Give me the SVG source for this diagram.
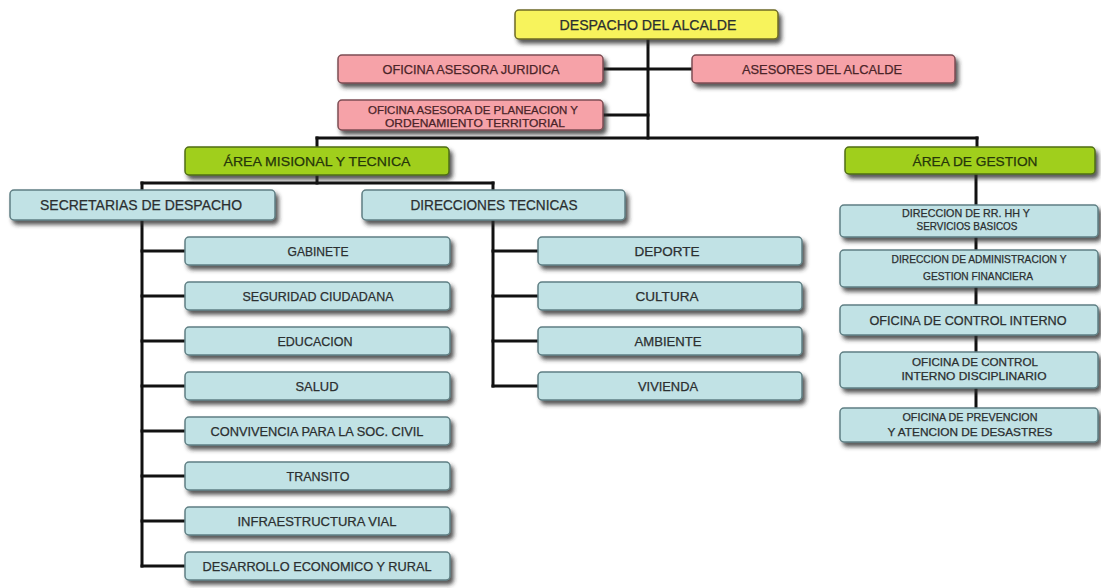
<svg xmlns="http://www.w3.org/2000/svg" width="1101" height="588" viewBox="0 0 1101 588">
<defs>
<filter id="sh" x="-10%" y="-30%" width="125%" height="180%">
<feDropShadow dx="3" dy="4" stdDeviation="2.2" flood-color="#2a2a2a" flood-opacity="0.8"/>
</filter>
<style>
.box{stroke-width:1.5;filter:url(#sh)}
.y{fill:#f7f35c;stroke:#6d6a26}
.p{fill:#f6a2a8;stroke:#7d4e54}
.g{fill:#a0cf1f;stroke:#4f6d16}
.b{fill:#c1e2e5;stroke:#5f7f84}
text{font-family:"Liberation Sans",Arial,sans-serif;text-anchor:middle;fill:#2b2f30;stroke:#2b2f30;stroke-width:0.25}
.tp{fill:#4a2428;stroke:#4a2428}
.tg{fill:#26360a;stroke:#26360a}
.c line{stroke:#111;stroke-width:3;stroke-linecap:square}
</style>
</defs>
<rect width="1101" height="588" fill="#ffffff"/>
<g class="c" id="connectors">
<line x1="648" y1="39" x2="648" y2="138"/>
<line x1="603" y1="69" x2="692" y2="69"/>
<line x1="603" y1="115" x2="648" y2="115"/>
<line x1="317" y1="138" x2="977" y2="138"/>
<line x1="317" y1="138" x2="317" y2="147"/>
<line x1="977" y1="138" x2="977" y2="147"/>
<line x1="317" y1="175" x2="317" y2="183"/>
<line x1="142" y1="183" x2="493" y2="183"/>
<line x1="142" y1="183" x2="142" y2="190"/>
<line x1="493" y1="183" x2="493" y2="190"/>
<line x1="142" y1="220" x2="142" y2="566"/>
<line x1="142" y1="251" x2="185" y2="251"/>
<line x1="142" y1="296" x2="185" y2="296"/>
<line x1="142" y1="341" x2="185" y2="341"/>
<line x1="142" y1="386" x2="185" y2="386"/>
<line x1="142" y1="431" x2="185" y2="431"/>
<line x1="142" y1="476" x2="185" y2="476"/>
<line x1="142" y1="521" x2="185" y2="521"/>
<line x1="142" y1="566" x2="185" y2="566"/>
<line x1="493" y1="220" x2="493" y2="386"/>
<line x1="493" y1="251" x2="538" y2="251"/>
<line x1="493" y1="296" x2="538" y2="296"/>
<line x1="493" y1="341" x2="538" y2="341"/>
<line x1="493" y1="386" x2="538" y2="386"/>
<line x1="976" y1="175" x2="976" y2="408"/>
</g>
<g id="despacho"><rect class="box y" x="515" y="10" width="263" height="29" rx="4"/><text x="648" y="30" font-size="14" textLength="177" lengthAdjust="spacingAndGlyphs">DESPACHO DEL ALCALDE</text></g>
<g id="juridica"><rect class="box p" x="338" y="55" width="265" height="28" rx="4"/><text class="tp" x="471" y="74" font-size="13" textLength="177" lengthAdjust="spacingAndGlyphs">OFICINA ASESORA JURIDICA</text></g>
<g id="asesores"><rect class="box p" x="692" y="55" width="263" height="28" rx="4"/><text class="tp" x="822" y="74" font-size="13" textLength="160" lengthAdjust="spacingAndGlyphs">ASESORES DEL ALCALDE</text></g>
<g id="planeacion"><rect class="box p" x="338" y="100" width="265" height="30" rx="4"/><text class="tp" x="473" y="114" font-size="10.5" textLength="210" lengthAdjust="spacingAndGlyphs">OFICINA ASESORA DE PLANEACION Y</text><text class="tp" x="475" y="126.5" font-size="10.5" textLength="180" lengthAdjust="spacingAndGlyphs">ORDENAMIENTO TERRITORIAL</text></g>
<g id="area-misional"><rect class="box g" x="185" y="147" width="264" height="28" rx="4"/><text class="tg" x="317" y="166" font-size="13.5" textLength="187" lengthAdjust="spacingAndGlyphs">ÁREA MISIONAL Y TECNICA</text></g>
<g id="area-gestion"><rect class="box g" x="845" y="147" width="250" height="27" rx="4"/><text class="tg" x="975" y="165.5" font-size="13.5" textLength="125" lengthAdjust="spacingAndGlyphs">ÁREA DE GESTION</text></g>
<g id="secretarias"><rect class="box b" x="10" y="190" width="265" height="30" rx="4"/><text x="141" y="210" font-size="14" textLength="202" lengthAdjust="spacingAndGlyphs">SECRETARIAS DE DESPACHO</text></g>
<g id="direcciones"><rect class="box b" x="362" y="190" width="263" height="30" rx="4"/><text x="494" y="210" font-size="14" textLength="167" lengthAdjust="spacingAndGlyphs">DIRECCIONES TECNICAS</text></g>
<g id="gabinete"><rect class="box b" x="185" y="237" width="265" height="28" rx="4"/><text x="318" y="255.5" font-size="12.5" textLength="61" lengthAdjust="spacingAndGlyphs">GABINETE</text></g>
<g id="seguridad"><rect class="box b" x="185" y="282" width="265" height="28" rx="4"/><text x="318" y="300.5" font-size="12.5" textLength="151" lengthAdjust="spacingAndGlyphs">SEGURIDAD CIUDADANA</text></g>
<g id="educacion"><rect class="box b" x="185" y="327" width="265" height="28" rx="4"/><text x="315" y="345.5" font-size="12.5" textLength="75" lengthAdjust="spacingAndGlyphs">EDUCACION</text></g>
<g id="salud"><rect class="box b" x="185" y="372" width="265" height="28" rx="4"/><text x="317" y="390.5" font-size="12.5" textLength="43" lengthAdjust="spacingAndGlyphs">SALUD</text></g>
<g id="convivencia"><rect class="box b" x="185" y="417" width="265" height="28" rx="4"/><text x="317" y="435.5" font-size="12.5" textLength="213" lengthAdjust="spacingAndGlyphs">CONVIVENCIA PARA LA SOC. CIVIL</text></g>
<g id="transito"><rect class="box b" x="185" y="462" width="265" height="28" rx="4"/><text x="318" y="480.5" font-size="12.5" textLength="63" lengthAdjust="spacingAndGlyphs">TRANSITO</text></g>
<g id="infraestructura"><rect class="box b" x="185" y="507" width="265" height="28" rx="4"/><text x="317" y="525.5" font-size="12.5" textLength="159" lengthAdjust="spacingAndGlyphs">INFRAESTRUCTURA VIAL</text></g>
<g id="desarrollo"><rect class="box b" x="185" y="552" width="265" height="28" rx="4"/><text x="317" y="571" font-size="13.5" textLength="229" lengthAdjust="spacingAndGlyphs">DESARROLLO ECONOMICO Y RURAL</text></g>
<g id="deporte"><rect class="box b" x="538" y="237" width="264" height="28" rx="4"/><text x="667" y="255.5" font-size="12.5" textLength="65" lengthAdjust="spacingAndGlyphs">DEPORTE</text></g>
<g id="cultura"><rect class="box b" x="538" y="282" width="264" height="28" rx="4"/><text x="667" y="300.5" font-size="12.5" textLength="63" lengthAdjust="spacingAndGlyphs">CULTURA</text></g>
<g id="ambiente"><rect class="box b" x="538" y="327" width="264" height="28" rx="4"/><text x="668" y="345.5" font-size="12.5" textLength="67" lengthAdjust="spacingAndGlyphs">AMBIENTE</text></g>
<g id="vivienda"><rect class="box b" x="538" y="372" width="264" height="28" rx="4"/><text x="668" y="390.5" font-size="12.5" textLength="60" lengthAdjust="spacingAndGlyphs">VIVIENDA</text></g>
<g id="rrhh"><rect class="box b" x="840" y="205" width="258" height="32" rx="4"/><text x="966" y="217" font-size="10.5" textLength="128" lengthAdjust="spacingAndGlyphs">DIRECCION DE RR. HH Y</text><text x="967" y="230" font-size="10.5" textLength="101" lengthAdjust="spacingAndGlyphs">SERVICIOS BASICOS</text></g>
<g id="administracion"><rect class="box b" x="840" y="250" width="258" height="37" rx="4"/><text x="979" y="263" font-size="10.5" textLength="175" lengthAdjust="spacingAndGlyphs">DIRECCION DE ADMINISTRACION Y</text><text x="978" y="280" font-size="10.5" textLength="110" lengthAdjust="spacingAndGlyphs">GESTION FINANCIERA</text></g>
<g id="control-interno"><rect class="box b" x="840" y="305" width="258" height="30" rx="4"/><text x="968" y="324.5" font-size="12" textLength="197" lengthAdjust="spacingAndGlyphs">OFICINA DE CONTROL INTERNO</text></g>
<g id="disciplinario"><rect class="box b" x="840" y="352" width="258" height="36" rx="4"/><text x="975" y="366" font-size="10.5" textLength="126" lengthAdjust="spacingAndGlyphs">OFICINA DE CONTROL</text><text x="974" y="380" font-size="10.5" textLength="145" lengthAdjust="spacingAndGlyphs">INTERNO DISCIPLINARIO</text></g>
<g id="prevencion"><rect class="box b" x="840" y="408" width="258" height="34" rx="4"/><text x="970" y="421" font-size="10.5" textLength="135" lengthAdjust="spacingAndGlyphs">OFICINA DE PREVENCION</text><text x="970" y="435.5" font-size="10.5" textLength="165" lengthAdjust="spacingAndGlyphs">Y ATENCION DE DESASTRES</text></g>
</svg>
